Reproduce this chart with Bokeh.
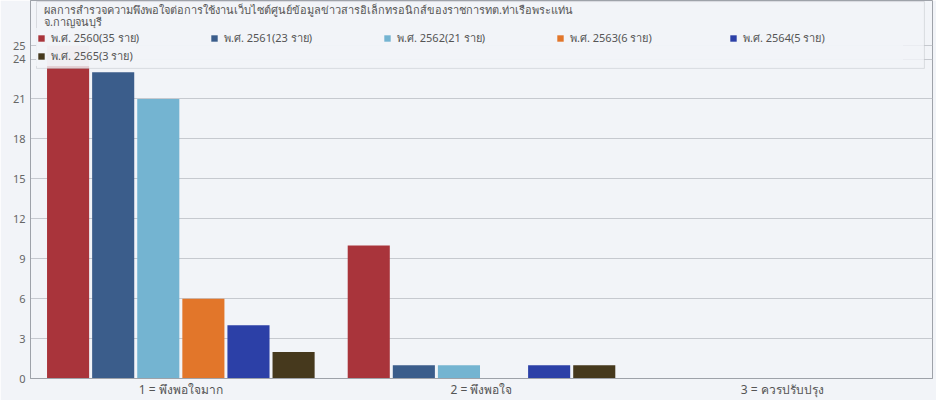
from bokeh.plotting import figure
from bokeh.models import (ColumnDataSource, Range1d, FixedTicker, Legend, LegendItem,
                          BoxAnnotation, Label)
from bokeh.transform import dodge
from bokeh.embed import file_html
from bokeh.resources import INLINE

# ---- data ----
categories = ["1 = พึงพอใจมาก", "2 = พึงพอใจ", "3 = ควรปรับปรุง"]
series_names = ["พ.ศ. 2560(35 ราย)", "พ.ศ. 2561(23 ราย)", "พ.ศ. 2562(21 ราย)",
                "พ.ศ. 2563(6 ราย)", "พ.ศ. 2564(5 ราย)", "พ.ศ. 2565(3 ราย)"]
y2560 = [25, 10, 0]
y2561 = [23, 1, 0]
y2562 = [21, 1, 0]
y2563 = [6, 0, 0]
y2564 = [4, 1, 0]
y2565 = [2, 1, 0]
y_ticks = [0, 3, 6, 9, 12, 15, 18, 21, 24, 25]
title_lines = ["ผลการสำรวจความพึงพอใจต่อการใช้งานเว็บไซต์ศูนย์ข้อมูลข่าวสารอิเล็กทรอนิกส์ของราชการทต.ท่าเรือพระแท่น",
               "จ.กาญจนบุรี"]

colors = ["#a9343b", "#3b5d8b", "#74b4d1", "#e2762a", "#2c40a7", "#46391d"]
FONT = "Noto Sans, Tahoma, sans-serif"
BG = "#f2f4f8"

src = ColumnDataSource(dict(cat=categories, s0=y2560, s1=y2561, s2=y2562,
                            s3=y2563, s4=y2564, s5=y2565))

p = figure(x_range=categories, y_range=Range1d(0, 28.4), width=936, height=400,
           output_backend="svg", toolbar_location=None,
           min_border_left=30, min_border_right=4, min_border_top=0, min_border_bottom=18)

p.background_fill_color = BG
p.border_fill_color = BG
p.outline_line_color = "#9ea2a9"

offsets = [-0.375, -0.225, -0.075, 0.075, 0.225, 0.375]
renderers = []
for i, (off, col) in enumerate(zip(offsets, colors)):
    r = p.vbar(x=dodge("cat", off, range=p.x_range), top="s%d" % i, width=0.14,
               source=src, fill_color=col, line_color=None)
    renderers.append(r)

# axes
p.yaxis.ticker = FixedTicker(ticks=y_ticks)
p.yaxis.major_label_text_font_size = "11px"
p.yaxis.major_label_text_color = "#666666"
p.yaxis.major_label_text_font = FONT
p.yaxis.axis_line_color = "#9ea2a9"
p.yaxis.major_tick_out = 0
p.yaxis.major_tick_in = 0
p.yaxis.minor_tick_line_color = None
p.xaxis.major_label_text_font_size = "12px"
p.xaxis.major_label_text_color = "#555555"
p.xaxis.major_label_text_font = FONT
p.xaxis.axis_line_color = "#9ea2a9"
p.xaxis.major_tick_line_color = None
p.xaxis.major_tick_out = 0
p.xaxis.major_tick_in = 0
p.xaxis.major_label_standoff = 2
p.xgrid.grid_line_color = None
p.ygrid.grid_line_color = "#c6c9cf"

# legend (semi-transparent background covers the bars behind it)
legend = Legend(items=[LegendItem(label=n, renderers=[r]) for n, r in zip(series_names, renderers)],
                orientation="horizontal", ncols=5, location=(6, 312),
                background_fill_color=BG, background_fill_alpha=0.82,
                border_line_alpha=0,
                label_text_font_size="11px", label_text_color="#555555",
                label_text_font=FONT, glyph_width=8, glyph_height=8,
                label_standoff=6, label_width=159, label_height=15,
                spacing=0, padding=1, margin=0)
p.add_layout(legend)

# outer legend frame with the two-line title
box = BoxAnnotation(left=0.02, right=2.973, bottom=23.3, top=28.32,
                    fill_color=BG, fill_alpha=0.82, line_color="#9ea2a9", line_width=1)
p.add_layout(box)
for txt, yy in zip(title_lines, [27.7, 26.85]):
    p.add_layout(Label(x=0.045, y=yy, text=txt, text_font_size="11px",
                       text_color="#555555", text_baseline="middle",
                       text_font=FONT))

open("out.html", "w").write(file_html(p, INLINE))
